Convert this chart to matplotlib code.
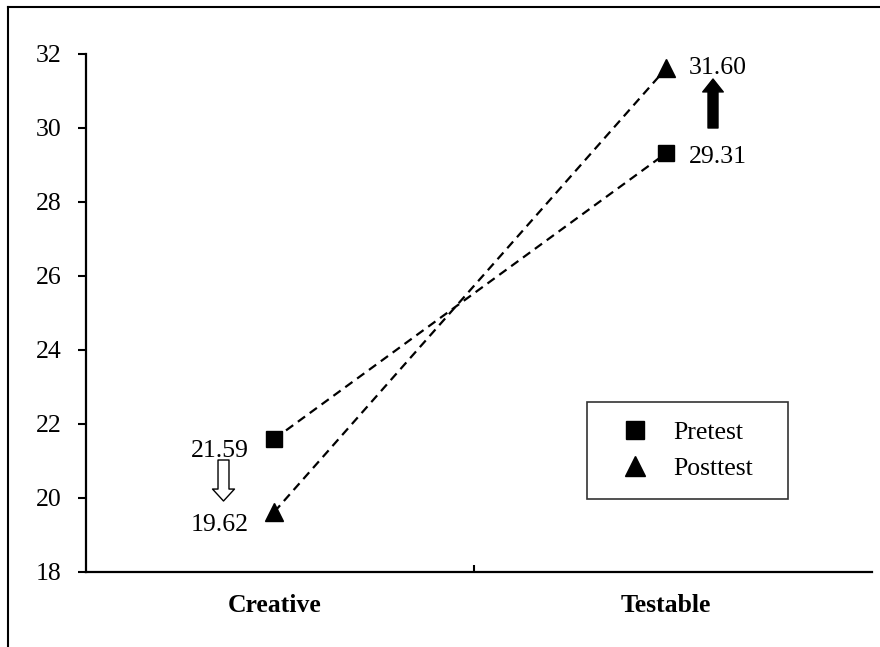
import matplotlib
matplotlib.use("Agg")
import matplotlib.pyplot as plt
from matplotlib.lines import Line2D

categories = ["Creative", "Testable"]
pretest = [21.59, 29.31]
posttest = [19.62, 31.60]
yticks = [18, 20, 22, 24, 26, 28, 30, 32]

plt.rcParams['font.family'] = ['Liberation Serif', 'DejaVu Serif']
FS = 18.5

W, H = 880, 647
fig = plt.figure(figsize=(W/100, H/100), dpi=100)

def fx(px): return px / W
def fy(py): return 1 - py / H

ax = fig.add_axes([fx(86), fy(572), fx(872) - fx(86), fy(53.5) - fy(572)])
x = [0, 1]
ax.plot(x, pretest, linestyle=(0, (4, 2.6)), color='black', lw=1.6,
        marker='s', markersize=11.5, markerfacecolor='black', markeredgecolor='black')
ax.plot(x, posttest, linestyle=(0, (4, 2.6)), color='black', lw=1.6,
        marker='^', markersize=13, markerfacecolor='black', markeredgecolor='black')

ax.set_xlim(-0.48, 1.525)
ax.set_ylim(18, 32)
ax.set_yticks(yticks)
ax.set_yticklabels([str(t) for t in yticks], fontsize=FS)
ax.set_xticks([0.51])
ax.set_xticklabels([])
ax.tick_params(axis='y', direction='out', length=6, width=1.5, pad=11.5)
ax.tick_params(axis='x', direction='in', length=5, width=1.5)
for s in ['top', 'right']:
    ax.spines[s].set_visible(False)
for s in ['left', 'bottom']:
    ax.spines[s].set_linewidth(1.6)

for xi, name in zip(x, categories):
    ax.annotate(name, xy=(xi, 18), xytext=(0, -24), textcoords='offset points',
                ha='center', va='center', fontsize=FS, fontweight='bold')

# value labels
ax.annotate(f"{pretest[0]:.2f}", xy=(0, pretest[0]), xytext=(-18, -8.5), textcoords='offset points',
            ha='right', va='center', fontsize=FS)
ax.annotate(f"{posttest[0]:.2f}", xy=(0, posttest[0]), xytext=(-18, -9), textcoords='offset points',
            ha='right', va='center', fontsize=FS)
ax.annotate(f"{posttest[1]:.2f}", xy=(1, posttest[1]), xytext=(16, 0.5), textcoords='offset points',
            ha='left', va='center', fontsize=FS)
ax.annotate(f"{pretest[1]:.2f}", xy=(1, pretest[1]), xytext=(16, -3), textcoords='offset points',
            ha='left', va='center', fontsize=FS)

# arrows
ax.annotate("", xy=(fx(223.5), fy(501)), xycoords='figure fraction',
            xytext=(fx(223.5), fy(460)), textcoords='figure fraction',
            arrowprops=dict(arrowstyle='simple,head_length=0.86,head_width=1.58,tail_width=0.79',
                            mutation_scale=10,
                            facecolor='white', edgecolor='black', lw=1.0, shrinkA=0, shrinkB=0))
ax.annotate("", xy=(fx(713), fy(79)), xycoords='figure fraction',
            xytext=(fx(713), fy(128)), textcoords='figure fraction',
            arrowprops=dict(arrowstyle='simple,head_length=0.93,head_width=1.48,tail_width=0.72',
                            mutation_scale=10,
                            facecolor='black', edgecolor='black', lw=1.0, shrinkA=0, shrinkB=0))

handles = [Line2D([], [], linestyle='none', marker='s', markersize=13.5, color='black'),
           Line2D([], [], linestyle='none', marker='^', markersize=15, color='black')]
AW, AH = 872 - 86, 572 - 53.5
leg = ax.legend(handles, ["Pretest", "Posttest"], loc='upper left', mode='expand',
                bbox_to_anchor=((587 - 86) / AW, (572 - 497) / AH, (788 - 587) / AW, (497 - 402) / AH),
                fontsize=FS, frameon=True, fancybox=False, edgecolor='black',
                borderpad=0.75, labelspacing=0.5, handletextpad=0.36, borderaxespad=0,
                handlelength=2.23)
leg.get_frame().set_linewidth(1.2)

# outer frame (left and top only)
fig.add_artist(Line2D([fx(8), fx(8)], [fy(7), 0], color='black', lw=1.5, transform=fig.transFigure))
fig.add_artist(Line2D([fx(8), 1], [fy(7), fy(7)], color='black', lw=1.5, transform=fig.transFigure))

fig.savefig("out.png", dpi=100)
